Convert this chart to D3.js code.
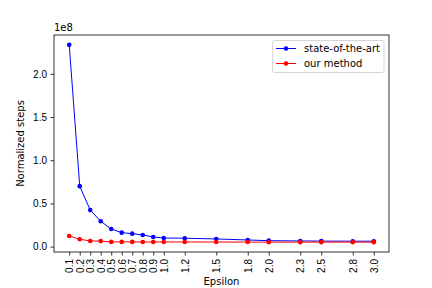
<!DOCTYPE html>
<html><head><meta charset="utf-8">
<script src="https://cdn.jsdelivr.net/npm/d3@7"></script>
<style>body{margin:0;background:#fff}svg{font-family:"DejaVu Sans",sans-serif}</style>
</head><body><svg id="c" width="432" height="288"></svg>
<script>
const epsilon = [0.1,0.2,0.3,0.4,0.5,0.6,0.7,0.8,0.9,1.0,1.2,1.5,1.8,2.0,2.3,2.5,2.8,3.0];
const tickLabels = ["0.1","0.2","0.3","0.4","0.5","0.6","0.7","0.8","0.9","1.0","1.2","1.5","1.8","2.0","2.3","2.5","2.8","3.0"];
const stateOfTheArt = [2.335e8,0.70e8,0.423e8,0.293e8,0.204e8,0.162e8,0.150e8,0.135e8,0.112e8,0.100e8,0.097e8,0.089e8,0.077e8,0.069e8,0.066e8,0.064e8,0.063e8,0.063e8];
const ourMethod = [0.123e8,0.085e8,0.066e8,0.064e8,0.055e8,0.055e8,0.055e8,0.054e8,0.054e8,0.054e8,0.054e8,0.053e8,0.053e8,0.052e8,0.052e8,0.052e8,0.052e8,0.052e8];
const yTicks = [0,0.5e8,1.0e8,1.5e8,2.0e8];
const series = [
  {name:"state-of-the-art", values: stateOfTheArt, color:"#0000ff"},
  {name:"our method", values: ourMethod, color:"#ff0000"}
];

const svg = d3.select("#c");
const L=54, R=389, T=35, B=252;
const xmin=d3.min(epsilon), xmax=d3.max(epsilon), xm=(xmax-xmin)*0.05;
const all = stateOfTheArt.concat(ourMethod);
const ymin=d3.min(all), ymax=d3.max(all), ym=(ymax-ymin)*0.05;
const x = d3.scaleLinear().domain([xmin-xm, xmax+xm]).range([L,R]);
const y = d3.scaleLinear().domain([ymin-ym, ymax+ym]).range([B,T]);

// axes
const xAxis = d3.axisBottom(x).tickValues(epsilon).tickFormat((d,i)=>tickLabels[i]).tickSizeOuter(0).tickSize(3.5).tickPadding(3.5);
const gx = svg.append("g").attr("transform",`translate(0,${B})`).call(xAxis);
gx.select(".domain").remove();
gx.selectAll("line").attr("stroke","#000").attr("stroke-width",0.8);
gx.selectAll("text").attr("transform","rotate(-90)").attr("text-anchor","end")
  .attr("x",-7).attr("y",0).attr("dy","0.35em").attr("font-size",10).attr("fill","#000");

const yAxis = d3.axisLeft(y).tickValues(yTicks).tickFormat(d=>(d/1e8).toFixed(1)).tickSizeOuter(0).tickSize(3.5).tickPadding(3.5);
const gy = svg.append("g").attr("transform",`translate(${L},0)`).call(yAxis);
gy.select(".domain").remove();
gy.selectAll("line").attr("stroke","#000").attr("stroke-width",0.8);
gy.selectAll("text").attr("font-size",10).attr("fill","#000");

svg.append("rect").attr("x",L).attr("y",T).attr("width",R-L).attr("height",B-T)
  .attr("fill","none").attr("stroke","#000").attr("stroke-width",0.8);

svg.append("text").attr("x",L).attr("y",T-4).attr("font-size",10).text("1e8");
svg.append("text").attr("x",(L+R)/2).attr("y",285).attr("text-anchor","middle").attr("font-size",10).text("Epsilon");
svg.append("text").attr("transform",`translate(24,${(T+B)/2}) rotate(-90)`).attr("text-anchor","middle").attr("font-size",10).text("Normalized steps");

const line = d3.line().x((d,i)=>x(epsilon[i])).y(d=>y(d));
series.forEach(s=>{
  svg.append("path").attr("d",line(s.values)).attr("fill","none").attr("stroke",s.color).attr("stroke-width",1);
  svg.append("g").selectAll("circle").data(s.values).join("circle")
    .attr("cx",(d,i)=>x(epsilon[i])).attr("cy",d=>y(d)).attr("r",2.3).attr("fill",s.color);
});

// legend
const lg = svg.append("g");
lg.append("rect").attr("x",272.5).attr("y",40.5).attr("width",111.5).attr("height",32).attr("rx",2)
  .attr("fill","#fff").attr("fill-opacity",0.8).attr("stroke","#ccc").attr("stroke-width",0.8);
series.forEach((s,i)=>{
  const yy = 48.5 + i*15;
  lg.append("line").attr("x1",276).attr("x2",296).attr("y1",yy).attr("y2",yy).attr("stroke",s.color).attr("stroke-width",1);
  lg.append("circle").attr("cx",286).attr("cy",yy).attr("r",2.3).attr("fill",s.color);
  lg.append("text").attr("x",304).attr("y",yy).attr("dy","0.35em").attr("font-size",10).text(s.name);
});
</script></body></html>
